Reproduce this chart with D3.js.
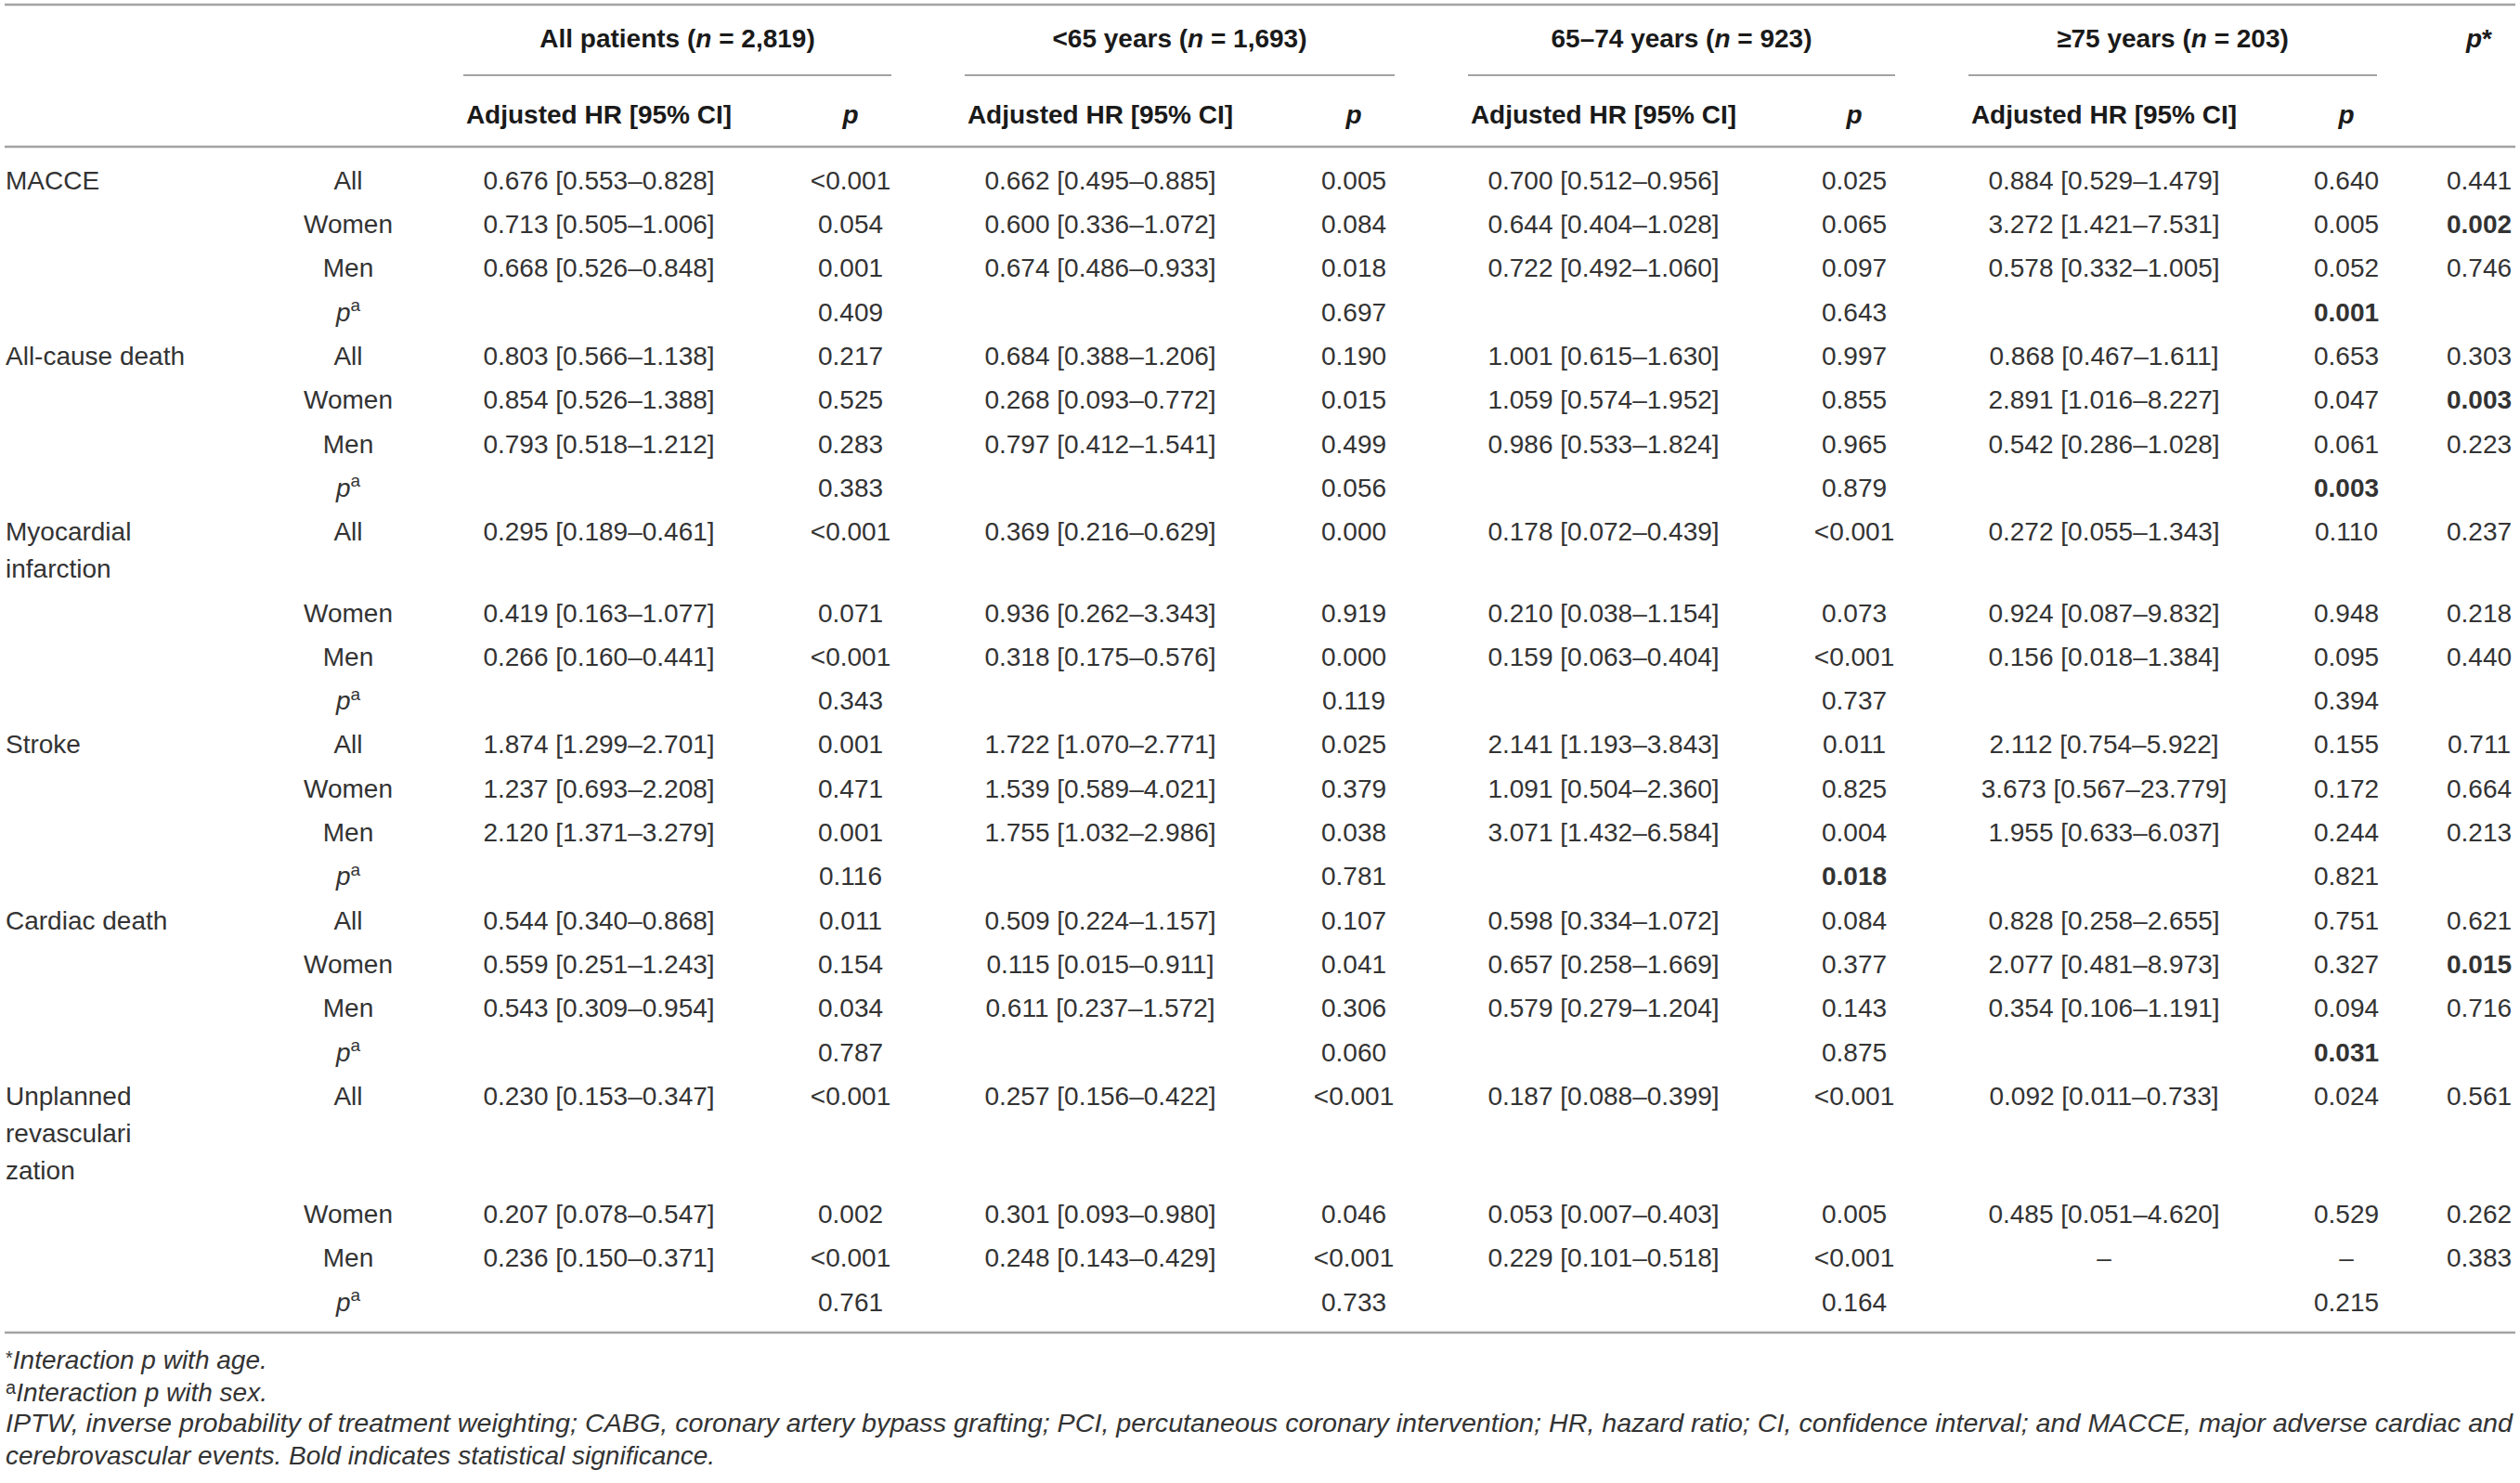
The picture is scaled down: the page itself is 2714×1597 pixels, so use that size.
<!DOCTYPE html>
<html lang="en">
<head>
    <meta charset="UTF-8" />
    <title>Adjusted HR by age group and sex</title>
    <script src="https://cdn.jsdelivr.net/npm/d3@7"></script>
    <style>
        body { margin: 0; background: #fff; }
        svg { display: block; font-family: "Liberation Sans", Arial, Helvetica, sans-serif; }
        .cell { font-size: 28px; fill: #333; }
        .head { font-size: 28px; font-weight: bold; fill: #1a1a1a; }
        .note { font-size: 28px; font-style: italic; fill: #333; }
        .rule { stroke: #a3a3a3; stroke-width: 2.5; }
        .sub { stroke: #a3a3a3; stroke-width: 2; }
    </style>
</head>
<body>
<div id="table"></div>
<script>
var outcomes = ["MACCE", "All-cause death", "Myocardial infarction", "Stroke", "Cardiac death", "Unplanned revascularization"];
// how the outcome names wrap in the first column
var outcomeLines = [["MACCE"], ["All-cause death"], ["Myocardial", "infarction"], ["Stroke"], ["Cardiac death"], ["Unplanned", "revasculari", "zation"]];
var sexRows = ["All", "Women", "Men", "pa"];
var groups = ["All patients", "<65 years", "65–74 years", "≥75 years"];
var groupN = ["2,819", "1,693", "923", "203"];

// HR [95% CI] per outcome: All, Women, Men
var hrAll = [
    "0.676 [0.553–0.828]", "0.713 [0.505–1.006]", "0.668 [0.526–0.848]",
    "0.803 [0.566–1.138]", "0.854 [0.526–1.388]", "0.793 [0.518–1.212]",
    "0.295 [0.189–0.461]", "0.419 [0.163–1.077]", "0.266 [0.160–0.441]",
    "1.874 [1.299–2.701]", "1.237 [0.693–2.208]", "2.120 [1.371–3.279]",
    "0.544 [0.340–0.868]", "0.559 [0.251–1.243]", "0.543 [0.309–0.954]",
    "0.230 [0.153–0.347]", "0.207 [0.078–0.547]", "0.236 [0.150–0.371]"
];
var hrUnder65 = [
    "0.662 [0.495–0.885]", "0.600 [0.336–1.072]", "0.674 [0.486–0.933]",
    "0.684 [0.388–1.206]", "0.268 [0.093–0.772]", "0.797 [0.412–1.541]",
    "0.369 [0.216–0.629]", "0.936 [0.262–3.343]", "0.318 [0.175–0.576]",
    "1.722 [1.070–2.771]", "1.539 [0.589–4.021]", "1.755 [1.032–2.986]",
    "0.509 [0.224–1.157]", "0.115 [0.015–0.911]", "0.611 [0.237–1.572]",
    "0.257 [0.156–0.422]", "0.301 [0.093–0.980]", "0.248 [0.143–0.429]"
];
var hr65to74 = [
    "0.700 [0.512–0.956]", "0.644 [0.404–1.028]", "0.722 [0.492–1.060]",
    "1.001 [0.615–1.630]", "1.059 [0.574–1.952]", "0.986 [0.533–1.824]",
    "0.178 [0.072–0.439]", "0.210 [0.038–1.154]", "0.159 [0.063–0.404]",
    "2.141 [1.193–3.843]", "1.091 [0.504–2.360]", "3.071 [1.432–6.584]",
    "0.598 [0.334–1.072]", "0.657 [0.258–1.669]", "0.579 [0.279–1.204]",
    "0.187 [0.088–0.399]", "0.053 [0.007–0.403]", "0.229 [0.101–0.518]"
];
var hr75plus = [
    "0.884 [0.529–1.479]", "3.272 [1.421–7.531]", "0.578 [0.332–1.005]",
    "0.868 [0.467–1.611]", "2.891 [1.016–8.227]", "0.542 [0.286–1.028]",
    "0.272 [0.055–1.343]", "0.924 [0.087–9.832]", "0.156 [0.018–1.384]",
    "2.112 [0.754–5.922]", "3.673 [0.567–23.779]", "1.955 [0.633–6.037]",
    "0.828 [0.258–2.655]", "2.077 [0.481–8.973]", "0.354 [0.106–1.191]",
    "0.092 [0.011–0.733]", "0.485 [0.051–4.620]", "–"
];

// p per outcome: All, Women, Men, interaction with sex
var pAll = [
    "<0.001", "0.054", "0.001", "0.409",
    "0.217", "0.525", "0.283", "0.383",
    "<0.001", "0.071", "<0.001", "0.343",
    "0.001", "0.471", "0.001", "0.116",
    "0.011", "0.154", "0.034", "0.787",
    "<0.001", "0.002", "<0.001", "0.761"
];
var pUnder65 = [
    "0.005", "0.084", "0.018", "0.697",
    "0.190", "0.015", "0.499", "0.056",
    "0.000", "0.919", "0.000", "0.119",
    "0.025", "0.379", "0.038", "0.781",
    "0.107", "0.041", "0.306", "0.060",
    "<0.001", "0.046", "<0.001", "0.733"
];
var p65to74 = [
    "0.025", "0.065", "0.097", "0.643",
    "0.997", "0.855", "0.965", "0.879",
    "<0.001", "0.073", "<0.001", "0.737",
    "0.011", "0.825", "0.004", "0.018",
    "0.084", "0.377", "0.143", "0.875",
    "<0.001", "0.005", "<0.001", "0.164"
];
var p75plus = [
    "0.640", "0.005", "0.052", "0.001",
    "0.653", "0.047", "0.061", "0.003",
    "0.110", "0.948", "0.095", "0.394",
    "0.155", "0.172", "0.244", "0.821",
    "0.751", "0.327", "0.094", "0.031",
    "0.024", "0.529", "–", "0.215"
];
// interaction p with age: All, Women, Men
var pAge = [
    "0.441", "0.002", "0.746",
    "0.303", "0.003", "0.223",
    "0.237", "0.218", "0.440",
    "0.711", "0.664", "0.213",
    "0.621", "0.015", "0.716",
    "0.561", "0.262", "0.383"
];
// bold = significant interaction (group-outcome-row)
var boldP = ["2-3-3", "3-0-3", "3-1-3", "3-4-3"];
var boldPAge = ["0-1", "1-1", "4-1"];

var notes = [
    "*Interaction p with age.",
    "aInteraction p with sex.",
    "IPTW, inverse probability of treatment weighting; CABG, coronary artery bypass grafting; PCI, percutaneous coronary intervention; HR, hazard ratio; CI, confidence interval; and MACCE, major adverse cardiac and",
    "cerebrovascular events. Bold indicates statistical significance."
];

var hrByGroup = [hrAll, hrUnder65, hr65to74, hr75plus];
var pByGroup = [pAll, pUnder65, p65to74, p75plus];

// ---- layout ----
var W = 2714, H = 1597;
var rowH = 47.3, lineH = 40, firstRow = 194;

var xHR = d3.scaleOrdinal().domain(groups).range([645, 1185, 1727, 2266]);
var xP = d3.scaleOrdinal().domain(groups).range([916, 1458, 1997, 2527]);
var xSex = 375, xLabel = 6, xAge = 2670;
var ruleX = [5, 2709];

// body rows (one per sex row), wrapped outcome names push following rows down
var rows = [];
var yy = firstRow;
outcomes.forEach(function(name, o) {
    sexRows.forEach(function(s, r) {
        rows.push({o: o, r: r, y: yy});
        yy += rowH + (r === 0 ? lineH * (outcomeLines[o].length - 1) : 0);
    });
});

var svg = d3.select("#table")
  .append("svg")
    .attr("width", W)
    .attr("height", H);

// horizontal rules
svg.selectAll("line.rule")
  .data([5, 158, 1435])
  .enter()
  .append("line")
    .attr("class", "rule")
    .attr("x1", ruleX[0]).attr("x2", ruleX[1])
    .attr("y1", function(d) { return d; })
    .attr("y2", function(d) { return d; });

// group underlines
function subStart(g) { return xHR(g) - 146; }
function subEnd(g, i) { return xP(g) + (i === 3 ? 33 : 44); }

svg.selectAll("line.sub")
  .data(groups)
  .enter()
  .append("line")
    .attr("class", "sub")
    .attr("x1", function(d) { return subStart(d); })
    .attr("x2", function(d, i) { return subEnd(d, i); })
    .attr("y1", 81).attr("y2", 81);

// group headers
var gh = svg.selectAll("text.grp")
  .data(groups)
  .enter()
  .append("text")
    .attr("class", "head grp")
    .attr("text-anchor", "middle")
    .attr("x", function(d, i) { return (subStart(d) + subEnd(d, i)) / 2; })
    .attr("y", 41.5)
    .attr("dy", "0.35em");
gh.append("tspan").text(function(d) { return d + " ("; });
gh.append("tspan").attr("font-style", "italic").text("n");
gh.append("tspan").text(function(d, i) { return " = " + groupN[i] + ")"; });

var pStar = svg.append("text")
    .attr("class", "head")
    .attr("text-anchor", "middle")
    .attr("x", xAge).attr("y", 41.5).attr("dy", "0.35em")
    .attr("font-style", "italic");
pStar.append("tspan").text("p");
pStar.append("tspan").attr("font-style", "normal").text("*");

// sub headers
svg.selectAll("text.hrh")
  .data(groups)
  .enter()
  .append("text")
    .attr("class", "head hrh")
    .attr("text-anchor", "middle")
    .attr("x", function(d) { return xHR(d); })
    .attr("y", 123).attr("dy", "0.35em")
    .text("Adjusted HR [95% CI]");

svg.selectAll("text.ph")
  .data(groups)
  .enter()
  .append("text")
    .attr("class", "head ph")
    .attr("text-anchor", "middle")
    .attr("font-style", "italic")
    .attr("x", function(d) { return xP(d); })
    .attr("y", 123).attr("dy", "0.35em")
    .text("p");

// outcome names
outcomeLines.forEach(function(lines, o) {
    var y0 = rows[o * 4].y;
    svg.selectAll("text.out" + o)
      .data(lines)
      .enter()
      .append("text")
        .attr("class", "cell")
        .attr("x", xLabel)
        .attr("y", function(d, i) { return y0 + i * lineH; })
        .attr("dy", "0.35em")
        .text(function(d) { return d; });
});

// sex column
var sexText = svg.selectAll("text.sex")
  .data(rows)
  .enter()
  .append("text")
    .attr("class", "cell sex")
    .attr("text-anchor", "middle")
    .attr("x", xSex)
    .attr("y", function(d) { return d.y; })
    .attr("dy", "0.35em");
sexText.filter(function(d) { return d.r < 3; })
    .text(function(d) { return sexRows[d.r]; });
var pa = sexText.filter(function(d) { return d.r === 3; });
pa.append("tspan").attr("font-style", "italic").text("p");
pa.append("tspan").attr("font-size", "19px").attr("dy", "-0.55em").text("a");

// HR and p cells per age group
groups.forEach(function(g, gi) {
    svg.selectAll("text.hr" + gi)
      .data(rows.filter(function(d) { return d.r < 3; }))
      .enter()
      .append("text")
        .attr("class", "cell")
        .attr("text-anchor", "middle")
        .attr("x", xHR(g))
        .attr("y", function(d) { return d.y; })
        .attr("dy", "0.35em")
        .text(function(d) { return hrByGroup[gi][d.o * 3 + d.r]; });

    svg.selectAll("text.p" + gi)
      .data(rows)
      .enter()
      .append("text")
        .attr("class", "cell")
        .attr("text-anchor", "middle")
        .attr("x", xP(g))
        .attr("y", function(d) { return d.y; })
        .attr("dy", "0.35em")
        .attr("font-weight", function(d) { return boldP.indexOf(gi + "-" + d.o + "-" + d.r) >= 0 ? "bold" : null; })
        .text(function(d) { return pByGroup[gi][d.o * 4 + d.r]; });
});

// interaction with age
svg.selectAll("text.age")
  .data(rows.filter(function(d) { return d.r < 3; }))
  .enter()
  .append("text")
    .attr("class", "cell")
    .attr("text-anchor", "middle")
    .attr("x", xAge)
    .attr("y", function(d) { return d.y; })
    .attr("dy", "0.35em")
    .attr("font-weight", function(d) { return boldPAge.indexOf(d.o + "-" + d.r) >= 0 ? "bold" : null; })
    .text(function(d) { return pAge[d.o * 3 + d.r]; });

// footnotes (y given as baselines, tspans shift the marks)
var noteY = [1464, 1499, 1532, 1567];
var nt = svg.selectAll("text.note")
  .data(notes)
  .enter()
  .append("text")
    .attr("class", "note")
    .attr("x", xLabel)
    .attr("y", function(d, i) { return noteY[i] + 10; });
nt.each(function(d, i) {
    var t = d3.select(this);
    if (i === 0) {
        t.append("tspan").attr("font-style", "normal").attr("font-size", "20px").attr("dy", -5).text("*");
        t.append("tspan").attr("dy", 5).text(d.slice(1));
    } else if (i === 1) {
        t.append("tspan").attr("font-style", "normal").attr("font-size", "20px").attr("dy", -8).text("a");
        t.append("tspan").attr("dy", 8).text(d.slice(1));
    } else {
        t.text(d);
    }
});
// the long note line is set justified to the table width
var longNote = nt.filter(function(d, i) { return i === 2; });
var natural = longNote.node().getComputedTextLength();
if (Math.abs(natural - 2700) < 300) {
    longNote.attr("textLength", 2700).attr("lengthAdjust", "spacingAndGlyphs");
}
</script>
</body>
</html>
